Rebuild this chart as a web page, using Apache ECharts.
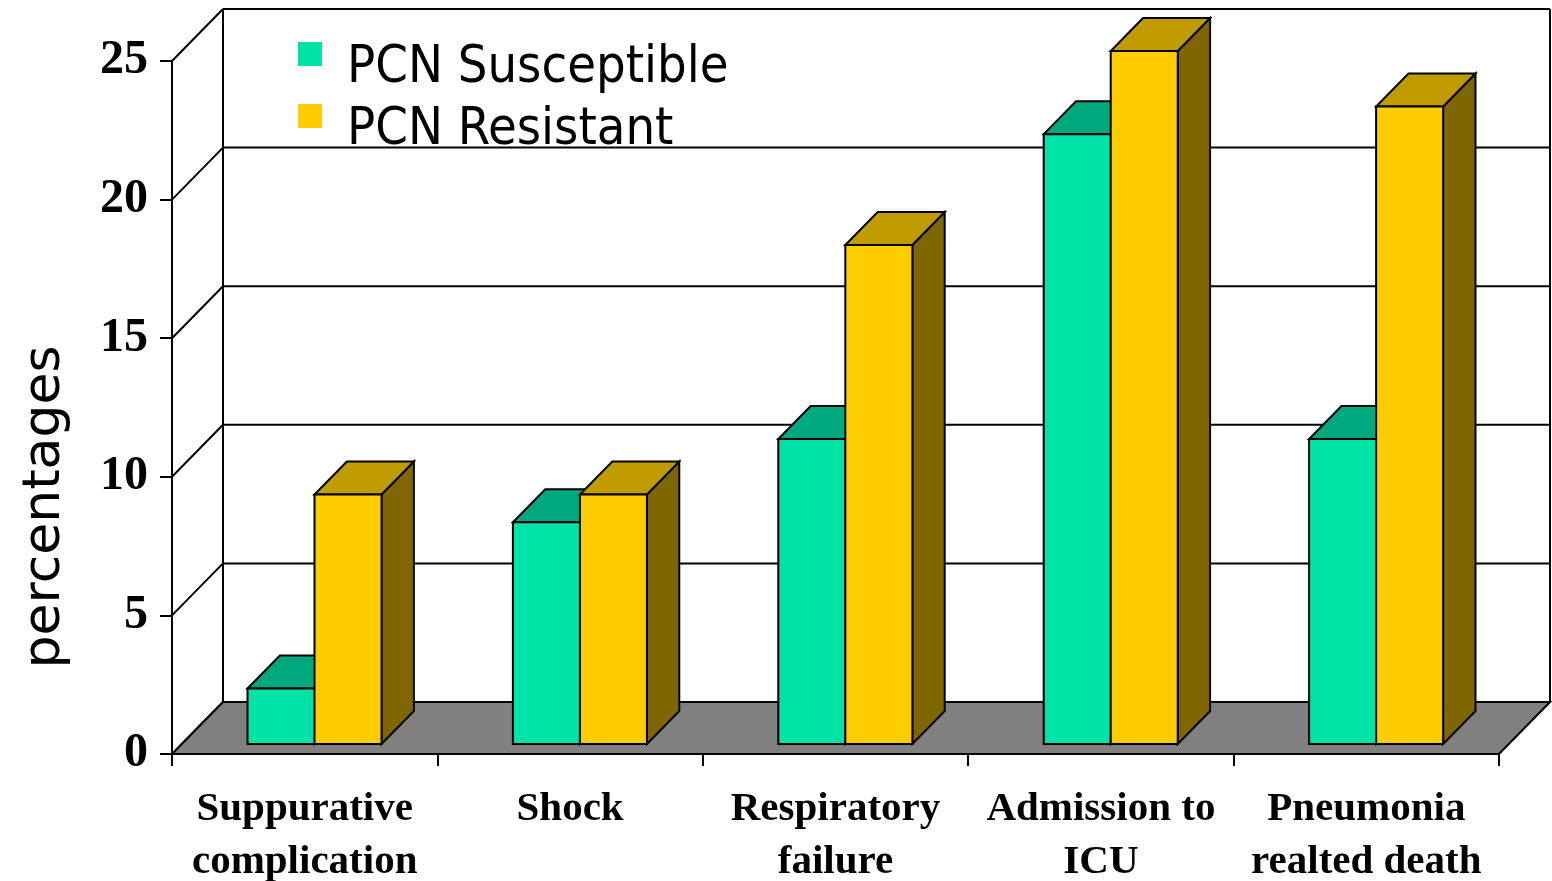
<!DOCTYPE html>
<html>
<head>
<meta charset="utf-8">
<script src="https://cdn.jsdelivr.net/npm/echarts/dist/echarts.min.js"></script>
<style>
  html, body { margin: 0; padding: 0; background: #ffffff; }
  #chart { width: 1552px; height: 881px; }
</style>
</head>
<body>
<div id="chart"></div>
<script>
// Outcome categories along the floor
const categories = [
  'Suppurative\ncomplication',
  'Shock',
  'Respiratory\nfailure',
  'Admission to\nICU',
  'Pneumonia\nrealted death'
];
// Percentages per group
const susceptible = [2, 8, 11, 22, 11];
const resistant = [9, 9, 18, 25, 23];
// Value axis range and step
const yMin = 0;
const yMax = 25;
const yStep = 5;
const seriesNames = ['PCN Susceptible', 'PCN Resistant'];

// Oblique projection: depth of the walls in pixels, and where the bars sit in that depth
const DEPTH_X = 51;
const DEPTH_Y = 52;
const BAR_FRONT = 10 / 52;
const BAR_BACK = 43 / 52;
const BAR_FRAC = 0.2525; // width of one bar as a share of the category band

const palette = [
  { front: '#00E3A8', top: '#00A87E', side: '#007A5C' },
  { front: '#FFCC00', top: '#C09C00', side: '#806600' }
];

const edge = { stroke: '#000000', lineWidth: 2, lineJoin: 'miter' };

function makeBarRenderer(idx) {
  const c = palette[idx];
  return function (params, api) {
    const ci = api.value(0);
    const v = api.value(1);
    const base = api.coord([ci, 0]);
    const top = api.coord([ci, v]);
    const band = api.size([1, 0])[0];
    const w = band * BAR_FRAC;
    const x0 = base[0] + (idx === 0 ? -w : 0);
    const x1 = x0 + w;
    const fx = DEPTH_X * BAR_FRONT, fy = -DEPTH_Y * BAR_FRONT;
    const bx = DEPTH_X * BAR_BACK, by = -DEPTH_Y * BAR_BACK;
    const yb = base[1], yt = top[1];
    const poly = (pts, fill) => ({
      type: 'polygon',
      shape: { points: pts },
      style: Object.assign({ fill: fill }, edge)
    });
    return {
      type: 'group',
      children: [
        poly([[x1 + fx, yb + fy], [x1 + bx, yb + by], [x1 + bx, yt + by], [x1 + fx, yt + fy]], c.side),
        poly([[x0 + fx, yt + fy], [x1 + fx, yt + fy], [x1 + bx, yt + by], [x0 + bx, yt + by]], c.top),
        poly([[x0 + fx, yb + fy], [x1 + fx, yb + fy], [x1 + fx, yt + fy], [x0 + fx, yt + fy]], c.front)
      ]
    };
  };
}

// Back wall, left wall gridlines and the grey floor
function renderFrame(params, api) {
  const cs = params.coordSys;
  const gx0 = cs.x, gx1 = cs.x + cs.width;
  const children = [];
  const line = (x1, y1, x2, y2) => ({
    type: 'line',
    shape: { x1: x1, y1: y1, x2: x2, y2: y2 },
    style: { stroke: '#000000', lineWidth: 2 }
  });
  const yTop = api.coord([0, yMax])[1];
  const yBottom = api.coord([0, yMin])[1];
  for (let v = yMin; v <= yMax; v += yStep) {
    const y = api.coord([0, v])[1];
    children.push(line(gx0 + DEPTH_X, y - DEPTH_Y, gx1 + DEPTH_X, y - DEPTH_Y));
    children.push(line(gx0, y, gx0 + DEPTH_X, y - DEPTH_Y));
  }
  children.push(line(gx0 + DEPTH_X, yTop - DEPTH_Y, gx0 + DEPTH_X, yBottom - DEPTH_Y));
  children.push(line(gx1 + DEPTH_X, yTop - DEPTH_Y, gx1 + DEPTH_X, yBottom - DEPTH_Y));
  children.push({
    type: 'polygon',
    shape: {
      points: [
        [gx0, yBottom], [gx1, yBottom],
        [gx1 + DEPTH_X, yBottom - DEPTH_Y], [gx0 + DEPTH_X, yBottom - DEPTH_Y]
      ]
    },
    style: { fill: '#808080', stroke: '#000000', lineWidth: 2 }
  });
  return { type: 'group', children: children };
}

const chart = echarts.init(document.getElementById('chart'), null, { renderer: 'canvas' });

chart.setOption({
  animation: false,
  backgroundColor: '#ffffff',
  grid: { left: 172, right: 53, top: 61, bottom: 127, containLabel: false, outerBoundsMode: 'none' },
  legend: {
    orient: 'vertical',
    left: 298,
    top: 14,
    padding: 0,
    icon: 'rect',
    itemWidth: 24,
    itemHeight: 24,
    itemGap: -18,
    selectedMode: false,
    data: seriesNames,
    formatter: '{n|{name}}',
    textStyle: {
      color: '#000000',
      rich: {
        n: {
          fontFamily: '"DejaVu Sans Condensed", "DejaVu Sans", sans-serif',
          fontSize: 52,
          lineHeight: 44,
          color: '#000000',
          padding: [28, 0, 0, 20]
        }
      }
    }
  },
  graphic: [{
    type: 'text',
    x: 45,
    y: 507,
    rotation: Math.PI / 2,
    style: {
      text: 'percentages',
      fontFamily: '"DejaVu Sans", sans-serif',
      fontSize: 52,
      fill: '#000000',
      align: 'center',
      verticalAlign: 'middle'
    }
  }],
  xAxis: {
    type: 'category',
    data: categories,
    z: 10,
    axisLine: { show: true, lineStyle: { color: '#000000', width: 2 } },
    axisTick: { show: true, length: 12, lineStyle: { color: '#000000', width: 2 } },
    axisLabel: {
      interval: 0,
      margin: 29,
      color: '#000000',
      fontFamily: '"Liberation Serif", "Times New Roman", serif',
      fontWeight: 'bold',
      fontSize: 41,
      lineHeight: 53
    },
    splitLine: { show: false }
  },
  yAxis: {
    type: 'value',
    min: yMin,
    max: yMax,
    interval: yStep,
    z: 10,
    axisLine: { show: true, lineStyle: { color: '#000000', width: 2 } },
    axisTick: { show: true, length: 12, lineStyle: { color: '#000000', width: 2 } },
    axisLabel: {
      margin: 24,
      color: '#000000',
      fontFamily: '"Liberation Serif", "Times New Roman", serif',
      fontWeight: 'bold',
      fontSize: 48
    },
    splitLine: { show: false }
  },
  series: [
    {
      type: 'custom',
      name: 'frame',
      z: 1,
      silent: true,
      renderItem: renderFrame,
      data: [[0, 0]]
    },
    {
      type: 'custom',
      name: seriesNames[0],
      z: 2,
      itemStyle: { color: palette[0].front },
      renderItem: makeBarRenderer(0),
      encode: { x: 0, y: 1 },
      data: susceptible.map((v, i) => [i, v])
    },
    {
      type: 'custom',
      name: seriesNames[1],
      z: 3,
      itemStyle: { color: palette[1].front },
      renderItem: makeBarRenderer(1),
      encode: { x: 0, y: 1 },
      data: resistant.map((v, i) => [i, v])
    }
  ]
});
</script>
</body>
</html>
